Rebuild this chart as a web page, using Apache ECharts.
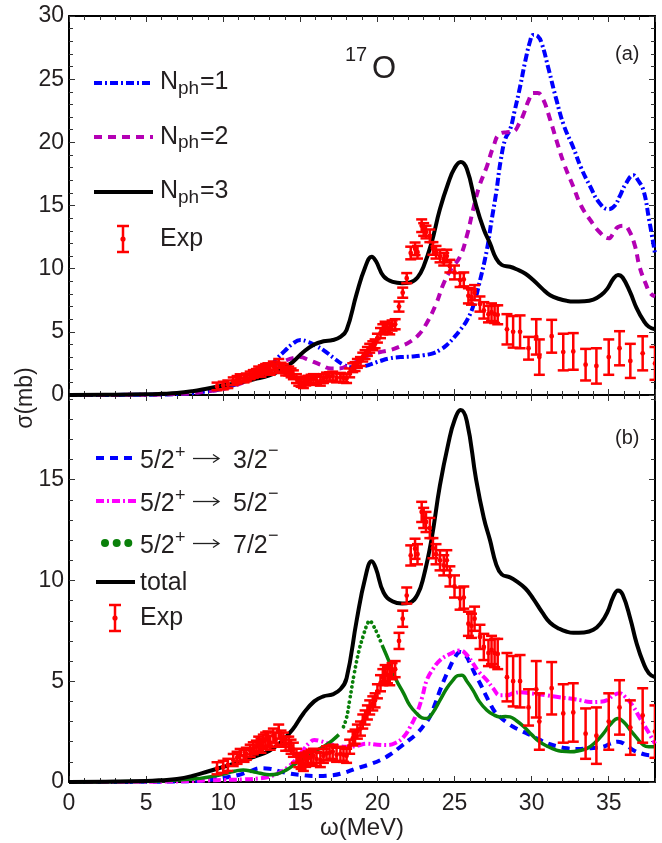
<!DOCTYPE html>
<html><head><meta charset="utf-8">
<script src="https://cdn.jsdelivr.net/npm/echarts@6/dist/echarts.min.js"></script>
<style>html,body{margin:0;padding:0;background:#fff}#c{width:662px;height:843px}</style>
</head><body><div id="c"></div>
<script>
// ---------- data ----------
const xTickLabels = ['0','5','10','15','20','25','30','35'];
// N_ph = 1 (top panel)
const nph1 = [[0,0],[5,0.02],[7,0.08],[8,0.15],[9,0.3],[9.8,0.45],[10.5,0.7],[11.5,1.15],[12.4,1.7],[13.0,2.2],[13.5,2.9],[14.0,3.5],[14.5,4.05],[15.0,4.35],[15.5,4.2],[16.0,3.9],[16.5,3.55],[17.2,2.9],[17.8,2.4],[18.4,2.2],[19.0,2.25],[19.5,2.4],[20.2,2.7],[20.8,2.9],[21.5,3.0],[22.3,3.05],[23.0,3.15],[23.6,3.3],[24.1,3.6],[24.5,3.96],[25.0,4.6],[25.4,5.2],[25.8,5.9],[26.2,7.0],[26.6,8.8],[27.1,11.5],[27.4,13.8],[27.7,16.0],[28.0,18.6],[28.3,20.3],[28.6,21.0],[28.9,22.5],[29.25,24.4],[29.6,26.5],[29.9,28.0],[30.1,28.5],[30.4,28.4],[30.65,27.85],[31.1,25.8],[31.6,23.4],[32.1,21.3],[32.7,19.6],[33.2,18.0],[33.8,16.5],[34.4,15.2],[35.0,14.7],[35.4,15.0],[35.7,15.7],[36.1,16.7],[36.6,17.4],[36.9,17.0],[37.25,16.2],[37.6,14.0],[38,11.2]];
// N_ph = 2 (top panel)
const nph2 = [[0,0],[5,0.02],[7,0.08],[8,0.15],[9,0.3],[9.8,0.42],[10.5,0.65],[11.5,1.1],[12.4,1.6],[13.2,2.2],[14.1,2.75],[14.6,2.95],[15.0,3.0],[15.5,2.8],[16.3,2.4],[17.0,2.1],[17.5,2.1],[18.2,2.4],[19.0,2.85],[19.5,3.2],[20.2,3.4],[20.8,3.55],[21.5,3.85],[22.1,4.2],[22.7,4.8],[23.2,5.7],[23.8,7.2],[24.3,8.85],[24.8,10.0],[25.36,10.95],[25.8,12.6],[26.2,14.65],[26.6,16.5],[27.1,18.1],[27.5,19.6],[27.95,20.7],[28.4,20.8],[28.8,20.85],[29.2,21.5],[29.5,22.3],[29.8,23.3],[30.1,23.9],[30.4,23.9],[30.75,23.4],[31.2,21.8],[31.6,20.2],[32.1,18.3],[32.7,16.5],[33.2,15.0],[33.8,13.85],[34.4,12.9],[35.0,12.4],[35.3,12.8],[35.6,13.3],[36.0,13.4],[36.3,13.06],[36.7,11.8],[37.0,10.15],[37.4,8.8],[37.7,8.05],[38,7.8]];
// N_ph = 3 (top) = total (bottom)
const nph3 = [[0,0],[3,0.02],[5,0.05],[6,0.09],[7,0.15],[8,0.3],[9,0.52],[10,0.75],[11,0.98],[12,1.25],[13,1.55],[13.7,1.95],[14.5,2.6],[15.2,3.4],[15.9,4.0],[16.5,4.25],[17.1,4.35],[17.6,4.6],[18.0,5.15],[18.65,8.0],[19.2,10.1],[19.63,10.95],[19.9,10.6],[20.4,9.4],[21.0,8.95],[21.6,8.85],[22.1,8.9],[22.6,9.3],[23.0,10.2],[23.5,12.0],[24.05,14.7],[24.6,16.8],[25.0,17.95],[25.4,18.45],[25.8,17.9],[26.4,15.0],[26.9,13.1],[27.3,12.0],[27.7,10.8],[28.06,10.3],[28.6,10.15],[29.03,9.95],[29.6,9.6],[30.1,9.1],[30.7,8.4],[31.2,7.9],[31.8,7.6],[32.3,7.45],[32.7,7.4],[33.4,7.42],[34.0,7.55],[34.5,7.9],[34.9,8.4],[35.3,9.2],[35.6,9.5],[35.9,9.3],[36.4,8.1],[36.8,6.9],[37.25,5.9],[37.6,5.4],[38,5.2]];
// 5/2+ -> 3/2- (bottom)
const t32 = [[0,0],[5,0.01],[7,0.03],[8,0.05],[9,0.1],[10,0.2],[11,0.35],[11.8,0.55],[12.4,0.68],[13.0,0.66],[13.7,0.52],[14.3,0.42],[15.0,0.35],[16.0,0.3],[17.0,0.33],[17.8,0.45],[18.65,0.68],[19.4,0.85],[20.2,1.09],[20.8,1.35],[21.5,1.75],[22.0,2.05],[22.55,2.4],[23.0,2.8],[23.4,3.23],[23.8,4.0],[24.06,4.55],[24.4,5.2],[24.7,5.7],[25.0,6.15],[25.36,6.45],[25.7,6.3],[26.0,5.9],[26.3,5.4],[26.65,4.9],[27.0,4.35],[27.3,3.9],[27.6,3.5],[27.95,3.23],[28.4,2.95],[28.8,2.74],[29.3,2.55],[29.9,2.33],[30.5,2.1],[31.0,1.92],[31.6,1.78],[32.3,1.67],[33.0,1.64],[33.6,1.67],[34.2,1.7],[34.65,1.75],[35.1,1.9],[35.6,2.0],[36.1,1.85],[36.6,1.58],[37.1,1.42],[37.5,1.34],[38,1.32]];
// 5/2+ -> 5/2- (bottom)
const t52 = [[0,0],[5,0.01],[7,0.03],[8,0.05],[9,0.08],[10,0.1],[11.3,0.13],[12.3,0.18],[12.9,0.25],[13.6,0.45],[14.3,0.8],[14.8,1.2],[15.2,1.6],[15.6,1.95],[15.9,2.08],[16.3,2.03],[17.1,1.85],[18.0,1.75],[18.7,1.8],[19.3,1.9],[20.0,1.85],[20.6,1.83],[21.2,1.95],[21.7,2.24],[22.1,2.7],[22.55,3.4],[22.9,4.2],[23.2,5.05],[23.6,5.6],[24.06,6.04],[24.7,6.35],[25.36,6.53],[25.8,6.3],[26.2,5.88],[26.6,5.45],[27.1,5.05],[27.5,4.65],[27.95,4.3],[28.4,4.3],[28.8,4.4],[29.3,4.45],[29.9,4.4],[30.5,4.35],[31.0,4.3],[31.8,4.2],[32.5,4.14],[33.2,4.05],[33.8,3.97],[34.4,3.98],[34.9,4.06],[35.3,4.3],[35.7,4.4],[36.1,4.2],[36.6,3.73],[37.0,3.2],[37.5,2.57],[38,1.9]];
// 5/2+ -> 7/2- (bottom)
const t72 = [[0,0],[4,0.02],[6,0.06],[7,0.1],[8,0.15],[8.5,0.18],[9.3,0.28],[10.2,0.43],[10.8,0.55],[11.3,0.6],[11.9,0.52],[12.4,0.43],[13.0,0.36],[13.5,0.4],[14.1,0.6],[14.6,0.85],[15.0,1.09],[15.5,1.35],[16.06,1.58],[16.6,1.8],[17.1,2.08],[17.5,2.35],[17.8,2.74],[18.0,3.2],[18.2,4.06],[18.5,5.4],[18.8,6.5],[19.1,7.3],[19.35,7.85],[19.5,8.0],[19.7,7.8],[20.0,7.35],[20.3,6.8],[20.8,5.9],[21.2,5.1],[21.7,4.4],[22.1,3.8],[22.55,3.4],[22.9,3.18],[23.2,3.15],[23.6,3.45],[24.06,4.06],[24.5,4.65],[24.9,5.05],[25.2,5.28],[25.47,5.3],[25.8,5.0],[26.2,4.55],[26.6,4.0],[27.1,3.56],[27.5,3.35],[27.95,3.23],[28.3,3.25],[28.6,3.23],[29.0,3.05],[29.5,2.74],[30.0,2.35],[30.5,2.0],[31.0,1.78],[31.6,1.58],[32.0,1.52],[32.5,1.5],[33.0,1.54],[33.6,1.67],[34.1,1.95],[34.65,2.4],[35.1,2.85],[35.6,3.15],[36.0,2.95],[36.4,2.57],[36.8,2.2],[37.25,1.83],[37.6,1.75],[38,1.75]];
// experiment [energy, sigma, error]
const expData = [[9.6,0.68,0.3],[10.0,0.75,0.3],[10.3,0.85,0.3],[10.65,1.09,0.3],[10.9,1.2,0.3],[11.1,1.34,0.3],[11.35,1.3,0.3],[11.5,1.4,0.3],[11.75,1.55,0.3],[11.95,1.67,0.3],[12.15,1.75,0.3],[12.3,1.9,0.35],[12.45,1.8,0.35],[12.6,2.0,0.35],[12.75,2.1,0.35],[12.9,2.16,0.35],[13.05,1.95,0.35],[13.25,2.3,0.35],[13.4,2.1,0.35],[13.6,2.5,0.35],[13.75,2.2,0.35],[13.9,2.1,0.35],[14.05,1.9,0.35],[14.25,1.9,0.35],[14.4,1.75,0.35],[14.55,1.6,0.35],[14.75,1.3,0.35],[14.9,1.09,0.35],[15.05,1.0,0.35],[15.2,0.9,0.35],[15.35,1.1,0.35],[15.5,1.17,0.35],[15.7,1.25,0.35],[15.85,1.3,0.35],[16.05,1.15,0.35],[16.3,1.09,0.35],[16.5,1.3,0.35],[16.7,1.42,0.35],[16.9,1.45,0.35],[17.1,1.5,0.35],[17.35,1.35,0.35],[17.6,1.4,0.35],[17.8,1.35,0.35],[18.0,1.3,0.35],[18.2,1.75,0.35],[18.4,2.16,0.35],[18.55,2.25,0.35],[18.7,2.5,0.35],[18.9,2.65,0.35],[19.05,3.0,0.35],[19.2,3.2,0.35],[19.35,3.45,0.35],[19.5,3.7,0.35],[19.7,3.9,0.35],[19.85,4.05,0.35],[20.0,4.5,0.35],[20.2,4.9,0.4],[20.35,5.2,0.4],[20.5,5.4,0.4],[20.65,5.3,0.4],[20.8,5.2,0.4],[20.95,5.5,0.4],[21.15,5.6,0.4],[21.4,7.0,0.4],[21.64,8.1,0.4],[21.9,9.25,0.4],[22.16,11.24,0.5],[22.44,11.57,0.5],[22.6,11.3,0.5],[22.87,13.4,0.5],[23.0,13.1,0.5],[23.15,12.9,0.5],[23.4,12.6,0.5],[23.6,11.6,0.5],[23.8,11.3,0.5],[24.06,11.0,0.5],[24.3,10.75,0.5],[24.5,11.0,0.5],[24.7,10.2,0.5],[25.0,9.7,0.55],[25.36,9.1,0.55],[25.6,9.15,0.55],[25.9,7.85,0.6],[26.1,7.75,0.6],[26.3,8.1,0.6],[26.65,7.2,0.6],[26.9,6.7,0.65],[27.2,6.4,0.65],[27.4,6.55,0.7],[27.6,6.4,0.7],[27.8,6.35,0.75],[28.4,5.2,1.2],[28.8,5.0,1.25],[29.25,5.0,1.3],[29.8,3.7,0.9],[30.3,4.6,1.4],[30.5,3.0,1.4],[31.3,4.65,1.3],[32.05,3.4,1.45],[32.7,3.45,1.45],[33.5,2.4,1.25],[34.2,2.3,1.4],[35.0,3.0,1.4],[35.7,3.7,1.35],[36.4,2.7,1.35],[37.2,3.3,1.35],[38.0,2.5,1.3]];

// ---------- styling ----------
const FONT = '"Liberation Sans", Arial, Helvetica, sans-serif';
const TXT = '#231f20';
const LW = 4;

function axisX(grid, pos, interval, len, labels, line){
  return {type:'value', gridIndex:grid, position:pos, min:0, max:38, interval:interval,
    axisLine:{show:line, onZero:false, lineStyle:{color:'#000', width:2}},
    axisTick:{show:true, inside:true, length:len, lineStyle:{color:'#333', width:1}},
    axisLabel:{show:labels, fontSize:23, color:TXT, margin:10, fontFamily:FONT, showMaxLabel:false, showMinLabel:true,
      formatter:function(v){ const i = Math.round(v/5); return (Math.abs(v - i*5) < 1e-6 && xTickLabels[i] !== undefined) ? xTickLabels[i] : ''; }},
    splitLine:{show:false}, minorTick:{show:false}};
}
function axisY(grid, pos, max, interval, len, labels, line){
  return {type:'value', gridIndex:grid, position:pos, min:0, max:max, interval:interval,
    axisLine:{show:line, onZero:false, lineStyle:{color:'#000', width:2}},
    axisTick:{show:true, inside:true, length:len, lineStyle:{color:'#333', width:1}},
    axisLabel:{show:labels, fontSize:23, color:TXT, margin:5, fontFamily:FONT, showMaxLabel:(max===30), showMinLabel:true},
    splitLine:{show:false}, minorTick:{show:false}};
}

const xAxes = [
  axisX(0,'bottom',5,6,false,true), axisX(0,'bottom',1,4,false,false),
  axisX(0,'top',5,6,false,true),    axisX(0,'top',1,4,false,false),
  axisX(1,'bottom',5,6,true,true),  axisX(1,'bottom',1,4,false,false),
  axisX(1,'top',5,6,false,true),    axisX(1,'top',1,4,false,false)
];
const yAxes = [
  axisY(0,'left',30,5,6,true,true),    axisY(0,'left',30,1,4,false,false),
  axisY(0,'right',30,5,6,false,true),  axisY(0,'right',30,1,4,false,false),
  axisY(1,'left',19.2,5,6,true,true),  axisY(1,'left',19.2,1,4,false,false),
  axisY(1,'right',19.2,5,6,false,true),axisY(1,'right',19.2,1,4,false,false)
];

function lineSeries(name, data, grid, color, width, dash, z){
  return {name:name, type:'line', data:data, xAxisIndex:grid*4, yAxisIndex:grid*4,
    showSymbol:false, symbol:'none', smooth:0.45, z:z||2, silent:true,
    lineStyle:{color:color, width:width, type:dash||'solid', cap:'butt', join:'round'}};
}
function errSeries(grid){
  return {type:'custom', xAxisIndex:grid*4, yAxisIndex:grid*4, data:expData, encode:{x:0,y:1}, z:5, clip:true, silent:true,
    renderItem:function(params, api){
      const x = api.value(0), y = api.value(1), e = api.value(2);
      const t = api.coord([x, y+e]), b = api.coord([x, y-e]), c = api.coord([x, y]);
      const w = 5.5, st = {stroke:'#ff0000', lineWidth:2.5};
      return {type:'group', children:[
        {type:'line', shape:{x1:t[0],y1:t[1],x2:b[0],y2:b[1]}, style:st},
        {type:'line', shape:{x1:t[0]-w,y1:t[1],x2:t[0]+w,y2:t[1]}, style:st},
        {type:'line', shape:{x1:b[0]-w,y1:b[1],x2:b[0]+w,y2:b[1]}, style:st},
        {type:'circle', shape:{cx:c[0],cy:c[1],r:2.4}, style:{fill:'#ff0000'}}
      ]};
    }};
}

const greenDotLo = 17.7, greenDotHi = 20.3;
const series = [
  lineSeries('N_ph=1', nph1, 0, '#0000ff', LW, [8,3,2,3]),
  lineSeries('N_ph=2', nph2, 0, '#b400b4', LW, [8,6]),
  lineSeries('N_ph=3', nph3, 0, '#000000', LW, 'solid', 3),
  errSeries(0),
  lineSeries('3/2', t32, 1, '#0000ff', LW, [8,6]),
  lineSeries('5/2', t52, 1, '#ff00ff', LW, [8,3,2,3]),
  lineSeries('7/2a', t72.filter(p=>p[0]<=greenDotLo), 1, '#0a800a', 3.5, 'solid'),
  lineSeries('7/2b', t72.filter(p=>p[0]>=greenDotLo && p[0]<=greenDotHi), 1, '#0a800a', 3.8, [0.1,5]),
  lineSeries('7/2c', t72.filter(p=>p[0]>=greenDotHi), 1, '#0a800a', 3.5, 'solid'),
  lineSeries('total', nph3, 1, '#000000', LW, 'solid', 3),
  errSeries(1)
];
series[7].lineStyle.cap = 'round';

// ---------- text & legend graphics ----------
function txt(x, y, s, size, extra){
  return Object.assign({type:'text', x:x, y:y, silent:true, style:{text:s, fontSize:size, fontFamily:FONT, fill:TXT, verticalAlign:'middle', align:'left'}}, extra||{});
}
function seg(x1,y1,x2,y2,color,w,dash){
  return {type:'line', silent:true, shape:{x1,y1,x2,y2}, style:{stroke:color, lineWidth:w, lineDash:dash||null}};
}
function errIcon(x, y){
  const st = {stroke:'#ff0000', lineWidth:2.5};
  return [
    {type:'line', silent:true, shape:{x1:x,y1:y-13,x2:x,y2:y+13}, style:st},
    {type:'line', silent:true, shape:{x1:x-6,y1:y-13,x2:x+6,y2:y-13}, style:st},
    {type:'line', silent:true, shape:{x1:x-6,y1:y+13,x2:x+6,y2:y+13}, style:st},
    {type:'circle', silent:true, shape:{cx:x,cy:y,r:2.6}, style:{fill:'#ff0000'}}
  ];
}
function arrow(x1, x2, y){
  return [
    {type:'line', silent:true, shape:{x1:x1,y1:y,x2:x2,y2:y}, style:{stroke:'#222', lineWidth:1.3}},
    {type:'polyline', silent:true, shape:{points:[[x2-6,y-4],[x2,y],[x2-6,y+4]]}, style:{stroke:'#222', lineWidth:1.3, fill:null}}
  ];
}
function nLabel(y, n){
  return [txt(160, y, 'N', 25), txt(178, y+6, 'ph', 19), txt(200, y, '=' + n, 25)];
}
function transLabel(y, fin){
  return [txt(140, y, '5/2', 25), txt(175, y-8, '+', 18), ...arrow(193, 219, y-3), txt(233, y, fin, 25), txt(268, y-10, '\u2212', 18)];
}

const graphics = [
  // top legend
  seg(94,83,153,83,'#0000ff',LW,[8,3,2,3]),
  seg(94,137,153,137,'#b400b4',LW,[8,6]),
  seg(94,192,153,192,'#000000',LW),
  ...nLabel(82.5,'1'), ...nLabel(137,'2'), ...nLabel(191.5,'3'),
  ...errIcon(123,239), txt(160,239.5,'Exp',25),
  // bottom legend
  seg(96,458,132,458,'#0000ff',LW,[8,6]),
  seg(96,501,136,501,'#ff00ff',LW,[8,3,2,3]),
  {type:'circle', silent:true, shape:{cx:105,cy:543,r:4}, style:{fill:'#0a800a'}},
  {type:'circle', silent:true, shape:{cx:116.7,cy:543,r:4}, style:{fill:'#0a800a'}},
  {type:'circle', silent:true, shape:{cx:128.3,cy:543,r:4}, style:{fill:'#0a800a'}},
  seg(96,582,135,582,'#000000',LW),
  ...transLabel(461.5,'3/2'), ...transLabel(504.5,'5/2'), ...transLabel(546.5,'7/2'),
  txt(140,583,'total',25),
  ...errIcon(115,618), txt(140,618.5,'Exp',25),
  // panel annotations
  txt(345,55,'17',20), txt(372,69,'O',31),
  txt(615,54,'(a)',20), txt(615,438,'(b)',20),
  // axis titles
  {type:'text', silent:true, x:362, y:828, style:{text:'\u03c9(MeV)', fontSize:24, fontFamily:FONT, fill:TXT, verticalAlign:'middle', align:'center'}},
  {type:'text', silent:true, x:26, y:398, rotation:Math.PI/2, style:{text:'\u03c3(mb)', fontSize:23, fontFamily:FONT, fill:TXT, verticalAlign:'middle', align:'center'}}
];

const chart = echarts.init(document.getElementById('c'), null, {renderer:'canvas'});
chart.setOption({
  backgroundColor:'#ffffff',
  animation:false,
  grid:[
    {left:69, top:16, width:586, height:379, containLabel:false},
    {left:69, top:395, width:586, height:387, containLabel:false}
  ],
  xAxis:xAxes,
  yAxis:yAxes,
  series:series,
  graphic:graphics
});
</script></body></html>
